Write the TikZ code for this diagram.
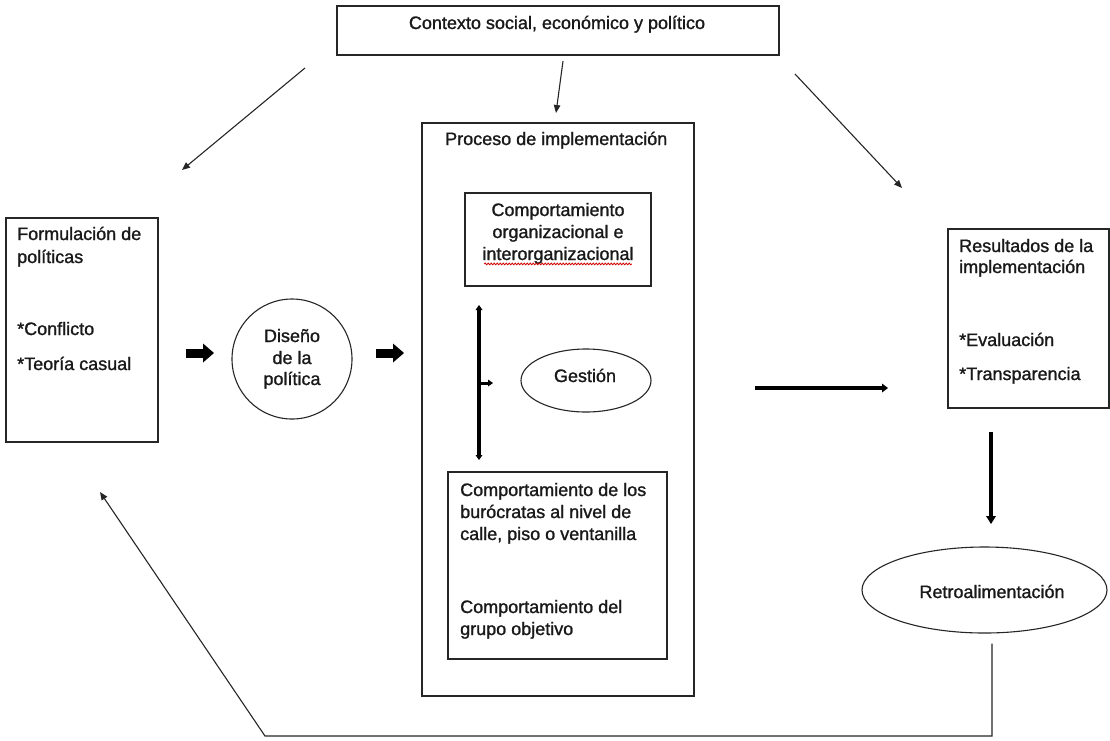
\documentclass[tikz,border=0pt]{standalone}
\usepackage{fontspec}
\setmainfont{Liberation Sans}[FakeBold=1.2]
\usetikzlibrary{arrows.meta,shapes.geometric,decorations.pathmorphing}
\tikzset{
  box/.style={draw=black!85, line width=1.3pt, rectangle, inner sep=0pt},
  oval/.style={draw=black!85, line width=1.1pt, ellipse, inner sep=0pt},
  txt/.style={inner sep=0pt, font=\fontsize{18}{22}\selectfont, text=black!90},
  thin/.style={draw=black!85, line width=1.1pt, -{Triangle[length=8pt,width=6.5pt]}},
  block/.style={draw=black, line width=9pt, -{Triangle[length=11pt,width=19pt,line width=0pt]}},
  thick/.style={draw=black, line width=4pt}
}
\begin{document}
\begin{tikzpicture}[x=1pt,y=-1pt]
\useasboundingbox (0,0) rectangle (1110,740);
\fill[white] (0,0) rectangle (1110,740);
% boxes
\node[box, minimum width=442pt, minimum height=49pt] (ctx) at (558,30.5) {};
\node[box, minimum width=272pt, minimum height=573pt] (impl) at (558,409.5) {};
\node[box, minimum width=186pt, minimum height=93pt] (org) at (558,239.5) {};
\node[box, minimum width=219pt, minimum height=187pt] (bur) at (557.5,565.5) {};
\node[box, minimum width=152pt, minimum height=224pt] (form) at (82,330) {};
\node[box, minimum width=161pt, minimum height=179pt] (res) at (1028.5,318.5) {};
\node[oval, circle, minimum size=120pt] (dis) at (292,359) {};
\node[oval, minimum width=130pt, minimum height=63pt] (ges) at (586,380.5) {};
\node[oval, minimum width=245pt, minimum height=86pt] (retro) at (984.5,590) {};
% texts
\node[txt, anchor=base] (tctx) at (557,29) {Contexto social, económico y político};
\node[txt, anchor=base west] (timpl) at (445,145) {Proceso de implementación};
\node[txt, anchor=base] (torg1) at (558,216) {Comportamiento};
\node[txt, anchor=base] (torg2) at (558,238) {organizacional e};
\node[txt, anchor=base] (torg3) at (558,260) {interorganizacional};
\node[txt, anchor=base] (tges) at (585,382) {Gestión};
\node[txt, anchor=base west] (tbur1) at (460,496) {Comportamiento de los};
\node[txt, anchor=base west] (tbur2) at (460,518) {burócratas al nivel de};
\node[txt, anchor=base west] (tbur3) at (460,540) {calle, piso o ventanilla};
\node[txt, anchor=base west] (tbur4) at (460,613) {Comportamiento del};
\node[txt, anchor=base west] (tbur5) at (460,635) {grupo objetivo};
\node[txt, anchor=base west] (tform1) at (17,240) {Formulación de};
\node[txt, anchor=base west] (tform2) at (17,263) {políticas};
\node[txt, anchor=base west] (tform3) at (17,335) {*Conflicto};
\node[txt, anchor=base west] (tform4) at (17,370) {*Teoría casual};
\node[txt, anchor=base] (tdis1) at (292,342) {Diseño};
\node[txt, anchor=base] (tdis2) at (292,364) {de la};
\node[txt, anchor=base] (tdis3) at (292,385) {política};
\node[txt, anchor=base west] (tres1) at (959,252) {Resultados de la};
\node[txt, anchor=base west] (tres2) at (959,273) {implementación};
\node[txt, anchor=base west] (tres3) at (959,346) {*Evaluación};
\node[txt, anchor=base west] (tres4) at (959,380) {*Transparencia};
\node[txt, anchor=base] (tretro) at (992,598) {Retroalimentación};
% spell-check squiggle
\draw[red!80!black, line width=0.8pt, decorate, decoration={snake, amplitude=0.9pt, segment length=3pt}] (torg3.south west) ++(2,0) -- ([xshift=-2pt]torg3.south east);
% connector end points
\coordinate (a1s) at (305,68);  \coordinate (a1e) at (182,170);
\coordinate (a2s) at (563,61);  \coordinate (a2e) at (556,113);
\coordinate (a3s) at (795,74);  \coordinate (a3e) at (902,188);
\coordinate (b1s) at (186,353); \coordinate (b1e) at (214,353);
\coordinate (b2s) at (376,353); \coordinate (b2e) at (404,353);
\coordinate (vs) at (479,305);  \coordinate (ve) at (479,460);
\coordinate (vm) at (479,383);  \coordinate (vme) at (493,383);
\coordinate (hs) at (755,388);  \coordinate (he) at (888,388);
\coordinate (ds) at (991,432);  \coordinate (de) at (991,524);
\coordinate (fb1) at (992,736); \coordinate (fb2) at (265,736); \coordinate (fbe) at (100,492);
% connectors
\draw[thin] (a1s) -- (a1e);
\draw[thin] (a2s) -- (a2e);
\draw[thin] (a3s) -- (a3e);
\draw[block] (b1s) -- (b1e);
\draw[block] (b2s) -- (b2e);
\draw[thick, {Triangle[length=5pt,width=7pt,line width=0pt]}-{Triangle[length=5pt,width=7pt,line width=0pt]}] (vs) -- (ve);
\draw[thick, line width=3pt, -{Triangle[length=5pt,width=7pt,line width=0pt]}] (vm) -- (vme);
\draw[thick, line width=4.5pt, -{Triangle[length=6pt,width=9pt,line width=0pt]}] (hs) -- (he);
\draw[thick, line width=4.5pt, -{Triangle[length=8pt,width=10pt,line width=0pt]}] (ds) -- (de);
\draw[thin] (retro.south -| ds) ++(1,10) -- (fb1) -- (fb2) -- (fbe);
\end{tikzpicture}
\end{document}
